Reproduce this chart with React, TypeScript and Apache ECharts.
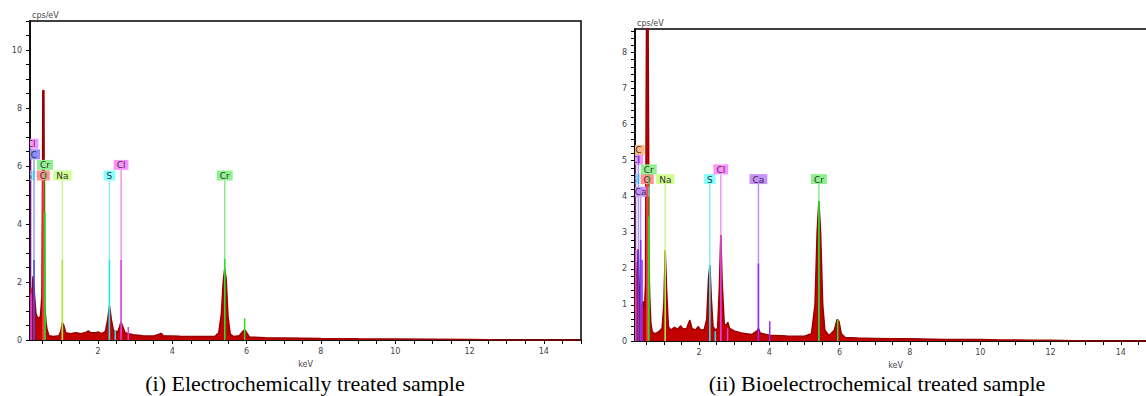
import React, { useEffect, useRef } from "react";
import * as echarts from "echarts";

// ---------- Spectrum (i): electrochemically treated ----------
const leftKeV = [0.17, 0.19, 0.22, 0.25, 0.27, 0.3, 0.33, 0.38, 0.45, 0.49, 0.505, 0.515, 0.545, 0.555, 0.57, 0.6, 0.63, 0.68, 0.8, 0.95, 1.0, 1.04, 1.08, 1.13, 1.25, 1.4, 1.55, 1.7, 1.74, 1.8, 1.95, 2.0, 2.1, 2.2, 2.26, 2.31, 2.36, 2.42, 2.47, 2.52, 2.58, 2.62, 2.67, 2.73, 2.82, 2.95, 3.2, 3.5, 3.65, 3.7, 3.76, 4.2, 4.8, 5.15, 5.25, 5.32, 5.37, 5.41, 5.45, 5.5, 5.56, 5.65, 5.8, 5.9, 5.95, 6.0, 6.08, 6.5, 7.0, 7.5, 8.0, 9.0, 10.0, 11.0, 12.0, 13.0, 15.0];
const leftCps = [1.4, 1.8, 1.5, 2.2, 1.9, 1.4, 0.9, 0.75, 0.8, 1.5, 5.0, 8.6, 8.6, 4.0, 1.2, 0.6, 0.35, 0.15, 0.12, 0.15, 0.3, 0.6, 0.5, 0.25, 0.22, 0.25, 0.22, 0.28, 0.32, 0.25, 0.25, 0.28, 0.22, 0.3, 0.7, 1.17, 0.7, 0.3, 0.32, 0.25, 0.45, 0.63, 0.45, 0.25, 0.22, 0.18, 0.15, 0.14, 0.2, 0.23, 0.15, 0.13, 0.12, 0.13, 0.25, 0.9, 2.0, 2.45, 2.1, 0.8, 0.2, 0.12, 0.15, 0.3, 0.35, 0.25, 0.1, 0.08, 0.07, 0.06, 0.05, 0.04, 0.035, 0.03, 0.015, 0, 0];

// ---------- Spectrum (ii): bioelectrochemical treated ----------
const rightKeV = [0.18, 0.2, 0.23, 0.27, 0.3, 0.34, 0.38, 0.41, 0.45, 0.48, 0.495, 0.51, 0.55, 0.565, 0.58, 0.6, 0.63, 0.67, 0.75, 0.85, 0.95, 1.0, 1.04, 1.08, 1.13, 1.2, 1.3, 1.4, 1.48, 1.55, 1.65, 1.74, 1.8, 1.9, 1.98, 2.05, 2.15, 2.22, 2.27, 2.31, 2.35, 2.4, 2.47, 2.53, 2.58, 2.62, 2.66, 2.72, 2.78, 2.82, 2.87, 3.0, 3.2, 3.5, 3.65, 3.69, 3.74, 4.0, 4.5, 5.0, 5.2, 5.3, 5.36, 5.41, 5.46, 5.52, 5.58, 5.7, 5.85, 5.93, 5.98, 6.05, 6.15, 6.5, 7.0, 7.5, 8.0, 9.0, 10.0, 10.6, 11.5, 12.0, 13.0, 15.0];
const rightCps = [0.8, 2.2, 1.2, 2.55, 1.5, 0.9, 1.0, 1.1, 0.9, 1.6, 6.0, 9.5, 9.5, 6.0, 2.0, 1.2, 0.5, 0.25, 0.2, 0.25, 0.35, 1.0, 2.5, 1.4, 0.4, 0.3, 0.38, 0.33, 0.42, 0.33, 0.35, 0.58, 0.35, 0.3, 0.4, 0.3, 0.32, 0.6, 1.7, 2.1, 1.2, 0.4, 0.3, 0.35, 1.5, 2.93, 1.6, 0.45, 0.45, 0.52, 0.35, 0.28, 0.22, 0.18, 0.28, 0.35, 0.22, 0.16, 0.14, 0.13, 0.2, 1.0, 3.0, 3.87, 3.0, 1.0, 0.3, 0.15, 0.3, 0.6, 0.55, 0.2, 0.1, 0.08, 0.07, 0.06, 0.06, 0.04, 0.04, 0.03, 0.02, 0.02, 0, 0];

// ---------- Element markers (labelled) ----------
const leftMarkerNames = ["S", "Cl", "C", "O", "Cr", "Na", "S", "Cl", "Cr"];
const leftMarkerKeV = [0.149, 0.2, 0.277, 0.525, 0.573, 1.041, 2.307, 2.622, 5.411];
const leftMarkerLevel = [0, 3, 2, 0, 1, 0, 0, 1, 0];
const leftMarkerStrong = [0.3, 1.6, 2.76, 5.5, 4.4, 2.76, 2.76, 2.76, 2.8];

const rightMarkerNames = ["S", "Cl", "C", "Ca", "O", "Cr", "Na", "S", "Cl", "Ca", "Cr"];
const rightMarkerKeV = [0.149, 0.2, 0.277, 0.341, 0.525, 0.573, 1.041, 2.307, 2.622, 3.691, 5.411];
const rightMarkerLevel = [0, 2, 3, -1.3, 0, 1, 0, 0, 1, 0, 0];
const rightMarkerStrong = [0.3, 2.52, 2.5, 2.8, 4.35, 3.45, 2.53, 2.1, 2.93, 2.15, 3.87];

// ---------- Minor (unlabelled) marker lines ----------
const leftMinorNames = ["S", "Cl", "Cr"];
const leftMinorKeV = [2.464, 2.815, 5.947];
const leftMinorCps = [0.35, 0.45, 0.75];

const rightMinorNames = ["Ca", "S", "Cl", "Ca", "Cr"];
const rightMinorKeV = [0.38, 2.464, 2.815, 4.012, 5.947];
const rightMinorCps = [2.25, 0.27, 0.35, 0.55, 0.6];

// ---------- Axis ticks / labels ----------
const xLabelValues = [2, 4, 6, 8, 10, 12, 14];
const leftYLabelValues = [0, 2, 4, 6, 8, 10];
const rightYLabelValues = [0, 1, 2, 3, 4, 5, 6, 7, 8];

const captionLeft = "(i) Electrochemically treated sample";
const captionRight = "(ii) Bioelectrochemical treated sample";

const leftLabelBg: Record<string, string> = { S: "#88ffff", Cl: "#ff90ff", C: "#9090ff", O: "#ff9090", Cr: "#90f090", Na: "#d0ff90" };
const rightLabelBg: Record<string, string> = { S: "#88ffff", Cl: "#ff90ff", C: "#ffb880", O: "#ff9090", Cr: "#90f090", Na: "#d0ff90", Ca: "#c890ff" };
const lineColors: Record<string, string> = { S: "#30e0f0", Cl: "#e040e0", C: "#4848ff", O: "#ff4040", Cr: "#28e028", Na: "#a8e840", Ca: "#9030f0" };

function steps(max: number, step: number): number[] {
  const out: number[] = [];
  for (let v = 0; v <= max + 1e-9; v += step) out.push(Math.round(v * 100) / 100);
  return out;
}

const FONT = "DejaVu Sans";

function xAxisCfg(gridIndex: number, min: number) {
  return {
    gridIndex,
    type: "value",
    min,
    max: 15,
    name: "keV",
    nameLocation: "middle",
    nameGap: 20,
    nameTextStyle: { fontSize: 8, color: "#444", fontFamily: FONT },
    axisLine: { onZero: false, lineStyle: { color: "#000", width: 1.5 } },
    axisTick: { customValues: steps(15, 0.5).filter((v) => v > min), length: 4, lineStyle: { color: "#000", width: 1 } },
    axisLabel: { customValues: xLabelValues, fontSize: 8, color: "#444", fontFamily: FONT, margin: 7 },
    splitLine: { show: false },
  };
}

function yAxisCfg(gridIndex: number, max: number, tickStep: number, labels: number[]) {
  return {
    gridIndex,
    type: "value",
    min: 0,
    max,
    name: "cps/eV",
    nameLocation: "end",
    nameGap: 2,
    nameTextStyle: { fontSize: 8, color: "#444", fontFamily: FONT, align: "left", verticalAlign: "bottom", padding: [0, 0, 0, 2] },
    axisLine: { lineStyle: { color: "#000", width: 1.5 } },
    axisTick: { customValues: steps(max, tickStep), length: 4, lineStyle: { color: "#000", width: 1 } },
    axisLabel: { customValues: labels, fontSize: 8, color: "#444", fontFamily: FONT, margin: 8 },
    splitLine: { show: false },
  };
}

function spectrumSeries(idx: number, keV: number[], cps: number[]) {
  return {
    type: "line",
    xAxisIndex: idx,
    yAxisIndex: idx,
    data: keV.map((k, i) => [k, cps[i]]),
    symbol: "none",
    clip: true,
    z: 3,
    lineStyle: { color: "#9a0000", width: 1.5 },
    areaStyle: { color: "#c20000", opacity: 1 },
  };
}

function markerSeries(
  idx: number,
  names: string[],
  keV: number[],
  levels: number[],
  strong: number[],
  base: number,
  levelPx: number,
  bg: Record<string, string>
) {
  return {
    type: "custom",
    xAxisIndex: idx,
    yAxisIndex: idx,
    clip: true,
    z: 6,
    data: keV.map((k, i) => [k, levels[i], strong[i]]),
    renderItem: (params: any, api: any) => {
      const i = params.dataIndex;
      const name = names[i];
      const k = api.value(0);
      const lvl = api.value(1);
      const p0 = api.coord([k, 0]);
      const pb = api.coord([k, base]);
      const ps = api.coord([k, api.value(2)]);
      const bottom = pb[1] - lvl * levelPx;
      const strongTop = Math.max(ps[1], bottom);
      return {
        type: "group",
        children: [
          {
            type: "line",
            shape: { x1: p0[0], y1: p0[1], x2: p0[0], y2: bottom },
            style: { stroke: lineColors[name], lineWidth: 1.5, opacity: 0.55 },
          },
          {
            type: "line",
            shape: { x1: p0[0], y1: p0[1], x2: p0[0], y2: strongTop },
            style: { stroke: lineColors[name], lineWidth: 1.5 },
          },
          {
            type: "text",
            x: p0[0],
            y: bottom,
            style: {
              text: name,
              fill: "#333",
              fontSize: 9,
              fontFamily: FONT,
              align: "center",
              verticalAlign: "bottom",
              backgroundColor: bg[name],
              padding: [1, 3, 0, 3],
            },
          },
        ],
      };
    },
  };
}

function minorSeries(idx: number, names: string[], keV: number[], cps: number[]) {
  return {
    type: "custom",
    xAxisIndex: idx,
    yAxisIndex: idx,
    clip: true,
    z: 5,
    data: keV.map((k, i) => [k, cps[i]]),
    renderItem: (params: any, api: any) => {
      const name = names[params.dataIndex];
      const p0 = api.coord([api.value(0), 0]);
      const p1 = api.coord([api.value(0), api.value(1)]);
      return {
        type: "line",
        shape: { x1: p0[0], y1: p0[1], x2: p1[0], y2: p1[1] },
        style: { stroke: lineColors[name], lineWidth: 1.5 },
      };
    },
  };
}

export default function App() {
  const ref = useRef<HTMLDivElement>(null);
  useEffect(() => {
    if (!ref.current) return;
    const chart = echarts.init(ref.current, undefined, { renderer: "svg" });
    chart.setOption({
      animation: false,
      backgroundColor: "#fff",
      grid: [
        { left: 30, top: 21, width: 551, height: 319, show: true, borderColor: "#000", borderWidth: 1.5 },
        { left: 635, top: 29, width: 521, height: 312, show: true, borderColor: "#000", borderWidth: 1.5 },
      ],
      xAxis: [xAxisCfg(0, 0.17), xAxisCfg(1, 0.18)],
      yAxis: [yAxisCfg(0, 11, 0.5, leftYLabelValues), yAxisCfg(1, 8.65, 0.2, rightYLabelValues)],
      series: [
        spectrumSeries(0, leftKeV, leftCps),
        spectrumSeries(1, rightKeV, rightCps),
        minorSeries(0, leftMinorNames, leftMinorKeV, leftMinorCps),
        minorSeries(1, rightMinorNames, rightMinorKeV, rightMinorCps),
        markerSeries(0, leftMarkerNames, leftMarkerKeV, leftMarkerLevel, leftMarkerStrong, 5.5, 10.6, leftLabelBg),
        markerSeries(1, rightMarkerNames, rightMarkerKeV, rightMarkerLevel, rightMarkerStrong, 4.35, 9.7, rightLabelBg),
      ],
      graphic: [
        {
          type: "text",
          x: 305,
          y: 383,
          style: { text: captionLeft, fontSize: 22, fontFamily: "Liberation Serif", fill: "#000", align: "center", verticalAlign: "middle" },
        },
        {
          type: "text",
          x: 877,
          y: 383,
          style: { text: captionRight, fontSize: 22, fontFamily: "Liberation Serif", fill: "#000", align: "center", verticalAlign: "middle" },
        },
      ],
    });
    return () => chart.dispose();
  }, []);
  return (
    <div style={{ position: "fixed", left: 0, top: 0, width: 1146, height: 396, overflow: "hidden", background: "#fff" }}>
      <div ref={ref} style={{ width: 1170, height: 396 }} />
    </div>
  );
}
